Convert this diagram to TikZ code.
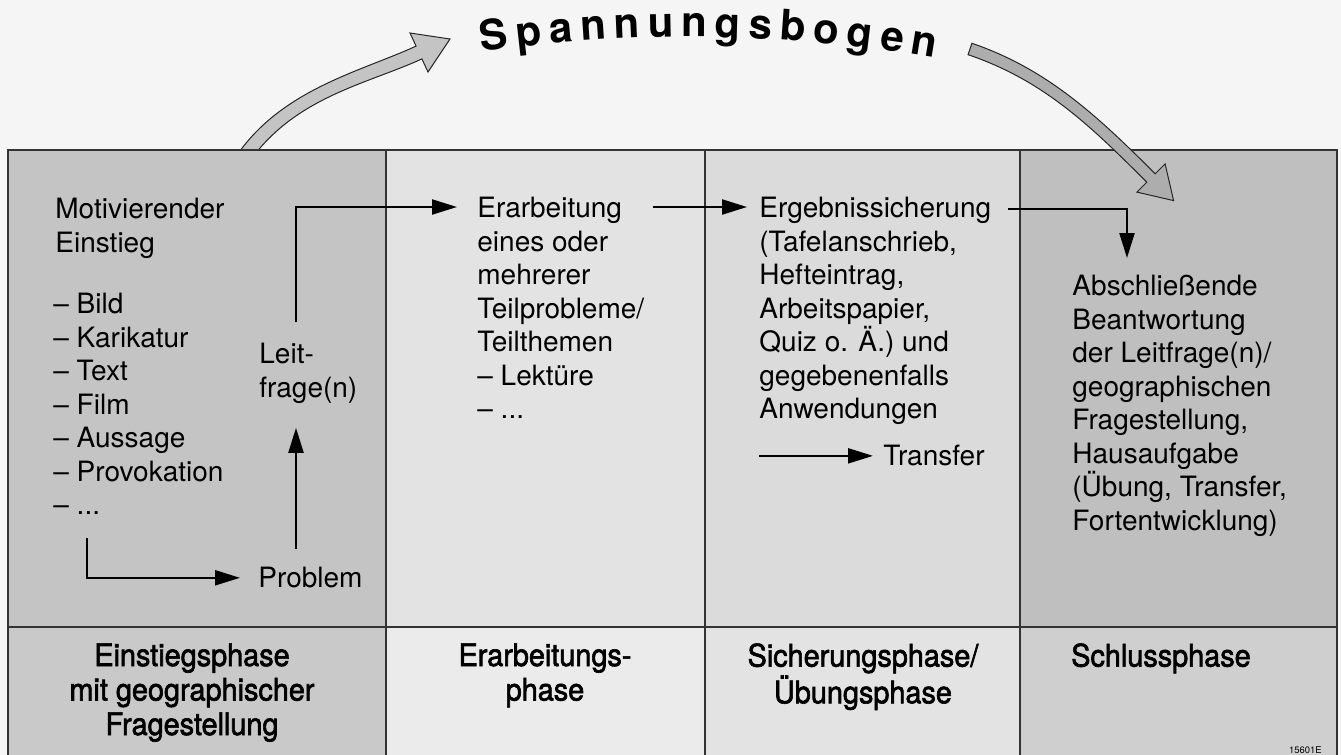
\documentclass[tikz,border=0pt]{standalone}
\usepackage{fontspec}
\setmainfont{TeX Gyre Heros}
\newfontfamily\phasenfont[FakeBold=2,FakeStretch=0.93]{TeX Gyre Heros}
\usetikzlibrary{arrows.meta,calc,decorations.text}

\newcommand{\bogenfont}{\fontsize{21}{24}\selectfont\bfseries}

\begin{document}
\begin{tikzpicture}[x=0.5pt, y=-0.5pt,
		feld/.style={inner sep=0pt, anchor=north west, align=left, font=\fontsize{14}{16.75}\selectfont},
		phase/.style={inner sep=0pt, anchor=north, align=center, font=\phasenfont\fontsize{15.5}{17.25}\selectfont},
		pfeil/.style={line width=1.1pt, -{Triangle[length=12.5pt, width=7.5pt]}},
		bogen/.style={draw=black!85, line width=0.5pt, line join=miter}]
			\useasboundingbox (0,0) rectangle (1341,755);
			\fill[black!4] (0,0) rectangle (1341,755);

			\draw[bogen, fill=black!23] (237.6,154.2) .. controls (283.5,88.7) and (361.6,71.2) .. (416.1,46.1) -- (410,33) -- (450,39) -- (428,72) -- (421.9,58.9) .. controls (367.4,84.0) and (294.9,96.7) .. (249.0,162.2) -- cycle;

			\fill[black!23] (8,150) rectangle (386,627);
			\fill[black!11] (386,150) rectangle (705,627);
			\fill[black!14] (705,150) rectangle (1020,627);
			\fill[black!25] (1020,150) rectangle (1337,627);
			\fill[black!21] (8,627) rectangle (386,755);
			\fill[black!8] (386,627) rectangle (705,755);
			\fill[black!11] (705,627) rectangle (1020,755);
			\fill[black!19] (1020,627) rectangle (1337,755);
			\draw[line width=0.6pt, black!80] (8,755) -- (8,150) -- (1337,150) -- (1337,755);
			\foreach \x in {386,705,1020}
				\draw[line width=0.6pt, black!80] (\x,150) -- (\x,755);
			\draw[line width=1.2pt, black!80] (8,627) -- (1337,627);

			\draw[bogen, fill=black!32] (971.9,43.3) .. controls (1047.7,69.1) and (1098.6,117.2) .. (1155.2,173.8) -- (1165.1,163.9) -- (1173.6,200.6) -- (1136.9,192.1) -- (1146.8,182.2) .. controls (1090.2,125.6) and (1043.9,80.5) .. (968.1,54.7) -- cycle;

			\path[decorate, decoration={text along path, text={|\bogenfont|Spannungsbogen}, text align={fit to path}}] (482,52) .. controls (632,30) and (785,32) .. (935,58);

			\draw (55,198) 		node[feld] (einstieg) 		{Motivierender\\Einstieg};
			\draw (53,293) 		node[feld] (medien) 		{– Bild\\– Karikatur\\– Text\\– Film\\– Aussage\\– Provokation\\– ...};
			\draw (259,343) 	node[feld] (leitfrage) 		{Leit-\\frage(n)};
			\draw (258,567) 	node[feld] (problem) 		{Problem};
			\draw (477,197) 	node[feld] (erarbeitung) 	{Erarbeitung\\eines oder\\mehrerer\\Teilprobleme/\\Teilthemen\\– Lektüre\\– ...};
			\draw (759,197) 	node[feld] (ergebnis) 		{Ergebnissicherung\\(Tafelanschrieb,\\Hefteintrag,\\Arbeitspapier,\\Quiz o. Ä.) und\\gegebenenfalls\\Anwendungen};
			\draw (883,445) 	node[feld] (transfer) 		{Transfer};
			\draw (1072,275) 	node[feld] (abschluss) 		{Abschließende\\Beantwortung\\der Leitfrage(n)/\\geographischen\\Fragestellung,\\Hausaufgabe\\(Übung, Transfer,\\Fortentwicklung)};

			\draw (192,643) 	node[phase] (einstiegsphase) 	{Einstiegsphase\\mit geographischer\\Fragestellung};
			\draw (545,643) 	node[phase] (erarbeitungsphase) {Erarbeitungs-\\phase};
			\draw (863,643) 	node[phase] (sicherungsphase) 	{Sicherungsphase/\\Übungsphase};
			\draw (1161,643) 	node[phase] (schlussphase) 		{Schlussphase};
			\draw (1322,753) 	node[inner sep=0pt, anchor=base east, font=\fontsize{4.7}{5}\selectfont] (kennung) {15601E};

			\coordinate (p1) at ($(problem.north west)+(38,-18)$);
			\draw[pfeil, shorten >=9pt] ($(medien.south west)+(34,23)$) |- (problem.west);
			\draw[pfeil, shorten >=12pt] (p1) -- (p1 |- leitfrage.south);
			\draw[pfeil, shorten <=10.5pt, shorten >=10pt] (p1 |- leitfrage.north) |- ($(erarbeitung.north west)+(0,10)$);
			\draw[pfeil, shorten <=4pt, shorten >=6pt] ($(erarbeitung.north east)+(0,10)$) -- ($(ergebnis.north west)+(0,10)$);
			\draw[pfeil, shorten <=8pt, shorten >=8.5pt] ($(ergebnis.north east)+(0,12)$) -| ($(abschluss.north west)+(55,0)$);
			\draw[pfeil, shorten >=5pt] (transfer.west -| ergebnis.west) -- (transfer.west);
		\end{tikzpicture}
\end{document}
